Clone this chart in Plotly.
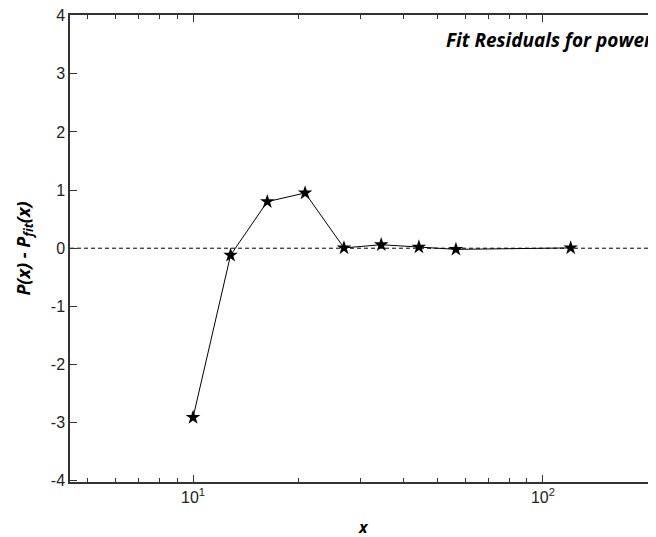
import plotly.graph_objects as go
import numpy as np

x_vals = [10.0, 12.8, 16.3, 20.9, 27.0, 34.5, 44.2, 56.4, 120.0]
residuals = [-2.91, -0.12, 0.80, 0.95, 0.005, 0.06, 0.02, -0.02, 0.005]

y_ticks = [-4, -3, -2, -1, 0, 1, 2, 3, 4]
y_tick_text = ["-4", "-3", "-2", "-1", "0", "1", "2", "3", "4"]
x_ticks = [10, 100]
x_tick_text = ["10<sup>1</sup>", "10<sup>2</sup>"]
x_minor = [5, 6, 7, 8, 9, 20, 30, 40, 50, 60, 70, 80, 90, 200]

fig = go.Figure()
fig.add_trace(go.Scatter(
    x=x_vals, y=residuals, mode="lines+markers",
    line=dict(color="black", width=1),
    marker=dict(symbol="star", size=11, color="black"),
    showlegend=False,
    cliponaxis=False,
))

fig.add_shape(type="line", xref="paper", x0=0, x1=1, yref="y", y0=0, y1=0,
              line=dict(color="black", width=1, dash="4px,3px"), layer="below")

fig.add_annotation(xref="paper", x=0.998, xanchor="right", yref="y", y=3.58,
                   text="<b><i>Fit Residuals for power</i></b>", showarrow=False,
                   font=dict(family="Open Sans", size=19, color="black"))

fig.add_annotation(xref="paper", x=0.5, xanchor="center", yref="paper", y=-0.097, yanchor="middle",
                   text="<b><i>x</i></b>", showarrow=False,
                   font=dict(family="Open Sans", size=16, color="black"))

axis_font = dict(family="Liberation Sans, Arial", size=16, color="#222")

fig.update_layout(
    width=648, height=529,
    margin=dict(l=62, r=0, t=7, b=55),
    paper_bgcolor="white", plot_bgcolor="white",
    xaxis=dict(
        type="log", range=[np.log10(4.45), 2.323],
        tickvals=x_ticks, ticktext=x_tick_text,
        ticks="inside", ticklen=7, tickcolor="#333", tickwidth=1,
        minor=dict(tickvals=x_minor, ticks="inside", ticklen=4, tickcolor="#333", tickwidth=1, showgrid=False),
        showline=True, linecolor="#333", linewidth=1.5, mirror="ticks",
        showgrid=False, zeroline=False, tickfont=axis_font, automargin=False,
    ),
    yaxis=dict(
        range=[-4.02, 4.01], tickvals=y_ticks, ticktext=y_tick_text,
        ticks="inside", ticklen=7, tickcolor="#333", tickwidth=1,
        showline=True, linecolor="#333", linewidth=1.5,
        showgrid=False, zeroline=False, tickfont=axis_font, automargin=False,
        ticklabeloverflow="allow",
        title=dict(text="<b><i>P(x) - P<sub>fit</sub>(x)</i></b>", font=dict(family="Open Sans", size=18, color="black"), standoff=16),
    ),
)

fig.write_html("out.html")
